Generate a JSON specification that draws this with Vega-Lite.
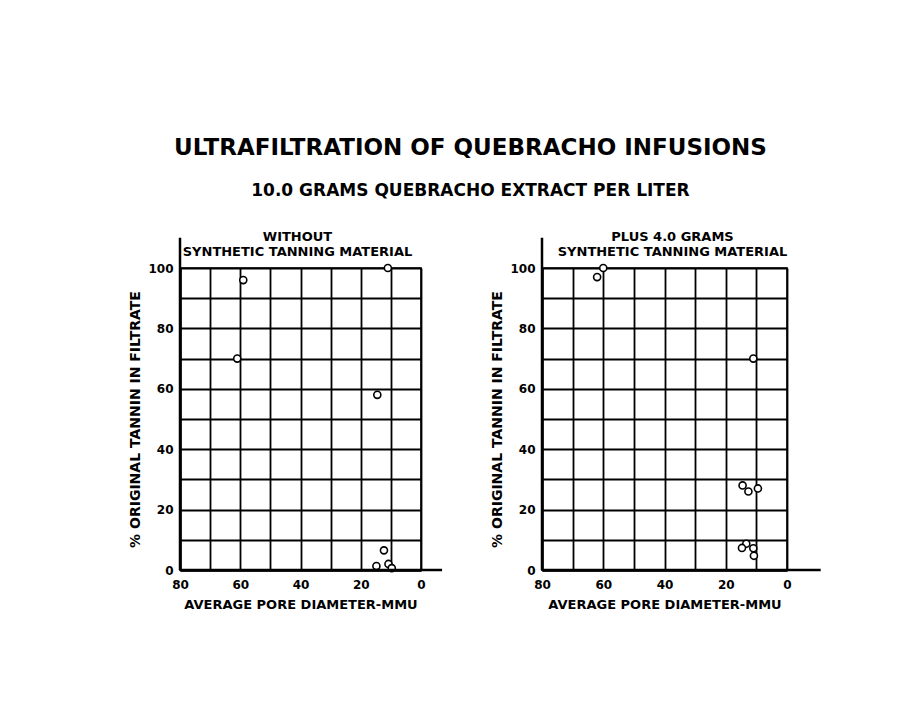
{
  "$schema": "https://vega.github.io/schema/vega-lite/v6.json",
  "background": "white",
  "padding": {"left": 128, "top": 136, "right": 20, "bottom": 20},
  "title": {
    "text": "ULTRAFILTRATION OF QUEBRACHO  INFUSIONS",
    "subtitle": "10.0 GRAMS QUEBRACHO EXTRACT PER LITER",
    "anchor": "middle",
    "dx": -5,
    "font": "DejaVu Sans",
    "fontSize": 23,
    "fontWeight": "bold",
    "color": "black",
    "subtitleFont": "DejaVu Sans",
    "subtitleFontSize": 17,
    "subtitleFontWeight": "bold",
    "subtitleColor": "black",
    "subtitlePadding": 23,
    "offset": 31
  },
  "datasets": {
    "without": [
      {"diameter": 11, "tannin": 100},
      {"diameter": 59, "tannin": 96},
      {"diameter": 61, "tannin": 70},
      {"diameter": 14.5, "tannin": 58},
      {"diameter": 12.3, "tannin": 6.5},
      {"diameter": 14.8, "tannin": 1.3},
      {"diameter": 10.8, "tannin": 2},
      {"diameter": 9.7, "tannin": 0.6}
    ],
    "plus": [
      {"diameter": 62, "tannin": 97},
      {"diameter": 60, "tannin": 100},
      {"diameter": 11, "tannin": 70},
      {"diameter": 14.5, "tannin": 28},
      {"diameter": 12.6, "tannin": 26},
      {"diameter": 9.5, "tannin": 27},
      {"diameter": 13.3, "tannin": 8.7},
      {"diameter": 14.7, "tannin": 7.3},
      {"diameter": 11, "tannin": 7.2},
      {"diameter": 10.8, "tannin": 4.7}
    ],
    "one": [{}]
  },
  "config": {
    "view": {"stroke": "black", "strokeWidth": 1.6},
    "font": "DejaVu Sans",
    "axis": {
      "grid": true,
      "gridColor": "black",
      "gridOpacity": 1,
      "gridWidth": 1.8,
      "ticks": false,
      "domain": true,
      "domainColor": "black",
      "domainWidth": 2.5,
      "labelFont": "DejaVu Sans",
      "labelFontWeight": "bold",
      "labelFontSize": 12,
      "labelColor": "black",
      "labelFlush": false,
      "labelOverlap": false,
      "labelExpr": "datum.value % 20 === 0 ? datum.label : ''",
      "titleFont": "DejaVu Sans",
      "titleFontWeight": "bold",
      "titleFontSize": 13,
      "titleColor": "black"
    },
    "axisX": {"labelPadding": 9, "titlePadding": 8},
    "axisY": {"labelPadding": 7, "titlePadding": 5, "titleFontSize": 14},
    "title": {"font": "DejaVu Sans", "fontWeight": "bold", "fontSize": 13, "color": "black"}
  },
  "spacing": 45,
  "hconcat": [
    {
      "width": 241,
      "height": 302,
      "title": {"text": ["WITHOUT", "SYNTHETIC TANNING MATERIAL"], "lineHeight": 15, "offset": -22, "dx": -3},
      "layer": [
        {
          "data": {"name": "without"},
          "mark": {"type": "point", "shape": "circle", "filled": true, "fill": "white", "stroke": "black", "strokeWidth": 1.6, "opacity": 1, "size": 50},
          "encoding": {
            "x": {"field": "diameter", "type": "quantitative", "scale": {"domain": [80, 0]},
              "axis": {"values": [80, 70, 60, 50, 40, 30, 20, 10, 0], "title": "AVERAGE  PORE  DIAMETER-MMU"}},
            "y": {"field": "tannin", "type": "quantitative", "scale": {"domain": [0, 100]},
              "axis": {"values": [0, 10, 20, 30, 40, 50, 60, 70, 80, 90, 100], "title": "%  ORIGINAL  TANNIN  IN  FILTRATE"}}
          }
        },
        {
          "data": {"name": "one"},
          "mark": {"type": "rule", "color": "black", "strokeWidth": 2.5},
          "encoding": {
            "x": {"datum": 80, "type": "quantitative", "axis": {"values": [80, 70, 60, 50, 40, 30, 20, 10, 0], "title": "AVERAGE  PORE  DIAMETER-MMU"}},
            "y": {"datum": 0, "type": "quantitative", "axis": {"values": [0, 10, 20, 30, 40, 50, 60, 70, 80, 90, 100], "title": "%  ORIGINAL  TANNIN  IN  FILTRATE"}},
            "y2": {"datum": 110}
          }
        },
        {
          "data": {"name": "one"},
          "mark": {"type": "rule", "color": "black", "strokeWidth": 2.5},
          "encoding": {
            "x": {"datum": 80, "type": "quantitative", "axis": {"values": [80, 70, 60, 50, 40, 30, 20, 10, 0], "title": "AVERAGE  PORE  DIAMETER-MMU"}},
            "x2": {"datum": -7},
            "y": {"datum": 0, "type": "quantitative", "axis": {"values": [0, 10, 20, 30, 40, 50, 60, 70, 80, 90, 100], "title": "%  ORIGINAL  TANNIN  IN  FILTRATE"}}
          }
        }
      ]
    },
    {
      "width": 245,
      "height": 302,
      "title": {"text": ["PLUS 4.0 GRAMS", "SYNTHETIC TANNING MATERIAL"], "lineHeight": 15, "offset": -22, "dx": 8},
      "layer": [
        {
          "data": {"name": "plus"},
          "mark": {"type": "point", "shape": "circle", "filled": true, "fill": "white", "stroke": "black", "strokeWidth": 1.6, "opacity": 1, "size": 50},
          "encoding": {
            "x": {"field": "diameter", "type": "quantitative", "scale": {"domain": [80, 0]},
              "axis": {"values": [80, 70, 60, 50, 40, 30, 20, 10, 0], "title": "AVERAGE  PORE  DIAMETER-MMU"}},
            "y": {"field": "tannin", "type": "quantitative", "scale": {"domain": [0, 100]},
              "axis": {"values": [0, 10, 20, 30, 40, 50, 60, 70, 80, 90, 100], "title": "%  ORIGINAL  TANNIN  IN  FILTRATE"}}
          }
        },
        {
          "data": {"name": "one"},
          "mark": {"type": "rule", "color": "black", "strokeWidth": 2.5},
          "encoding": {
            "x": {"datum": 80, "type": "quantitative", "axis": {"values": [80, 70, 60, 50, 40, 30, 20, 10, 0], "title": "AVERAGE  PORE  DIAMETER-MMU"}},
            "y": {"datum": 0, "type": "quantitative", "axis": {"values": [0, 10, 20, 30, 40, 50, 60, 70, 80, 90, 100], "title": "%  ORIGINAL  TANNIN  IN  FILTRATE"}},
            "y2": {"datum": 110}
          }
        },
        {
          "data": {"name": "one"},
          "mark": {"type": "rule", "color": "black", "strokeWidth": 2.5},
          "encoding": {
            "x": {"datum": 80, "type": "quantitative", "axis": {"values": [80, 70, 60, 50, 40, 30, 20, 10, 0], "title": "AVERAGE  PORE  DIAMETER-MMU"}},
            "x2": {"datum": -11},
            "y": {"datum": 0, "type": "quantitative", "axis": {"values": [0, 10, 20, 30, 40, 50, 60, 70, 80, 90, 100], "title": "%  ORIGINAL  TANNIN  IN  FILTRATE"}}
          }
        }
      ]
    }
  ]
}
